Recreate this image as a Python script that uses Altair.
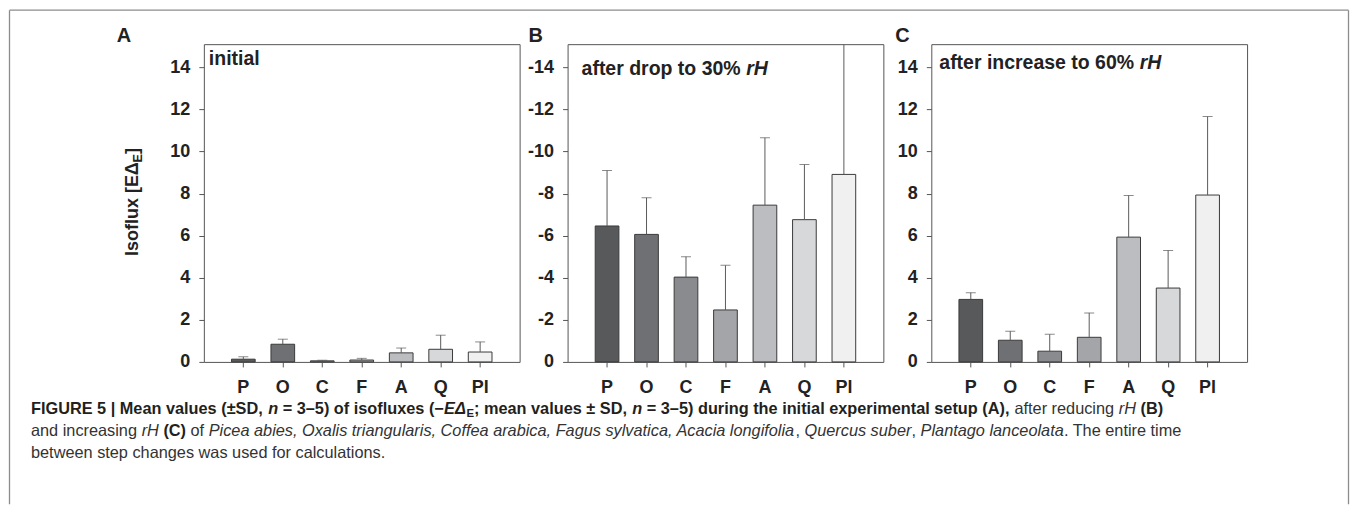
import altair as alt
import pandas as pd

# ---------------- data ----------------
species = ["P", "O", "C", "F", "A", "Q", "Pl"]
bar_colors = ["#58595b", "#6f7073", "#8a8b8e", "#a4a5a8", "#bcbdc0", "#d7d8da", "#f0f0f1"]

initial_mean = [0.13, 0.84, 0.05, 0.09, 0.43, 0.60, 0.47]
initial_upper = [0.24, 1.08, 0.08, 0.17, 0.66, 1.27, 0.95]

drop_mean = [6.46, 6.06, 4.03, 2.47, 7.45, 6.76, 8.91]
drop_upper = [9.10, 7.80, 5.00, 4.59, 10.65, 9.38, 16.0]

increase_mean = [2.97, 1.03, 0.51, 1.17, 5.93, 3.51, 7.93]
increase_upper = [3.29, 1.46, 1.31, 2.33, 7.91, 5.30, 11.66]

y_ticks = [0, 2, 4, 6, 8, 10, 12, 14]
panel_letters = ["A", "B", "C"]
panel_titles = ["initial", "after drop to 30% ", "after increase to 60% "]
panel_title_italic = ["", "rH", "rH"]
y_title_parts = ["Isoflux [E\u0394", "E", "]"]

caption_lines = [
    [("FIGURE 5 | Mean values (\u00b1SD, ", "b"), ("n", "bi"), (" = 3\u20135) of isofluxes (\u2212", "b"),
     ("E\u0394", "bi"), ("E", "bsub"), ("; mean values \u00b1 SD, ", "b"), ("n", "bi"),
     (" = 3\u20135) during the initial experimental setup (A),", "b"), (" after reducing ", "r"),
     ("rH", "i"), (" (B)", "b")],
    [("and increasing ", "r"), ("rH", "i"), (" (C)", "b"), (" of ", "r"),
     ("Picea abies, Oxalis triangularis, Coffea arabica, Fagus sylvatica, Acacia longifolia", "i"),
     (", ", "r"), ("Quercus suber", "i"), (", ", "r"), ("Plantago lanceolata", "i"),
     (". The entire time", "r")],
    [("between step changes was used for calculations.", "r")],
]

# ---------------- layout / style ----------------
FONT = "Liberation Sans"
CAP_FONT = "Liberation Sans"
NARROW = 1.0
PW, PH = 316, 318
SPACING = 48
ORIGINS = [(203, 43), (203 + PW + SPACING, 43), (203 + 2 * (PW + SPACING), 43)]
DARK = "#222222"

REG = {' ': 278, '!': 278, '%': 889, '(': 333, ')': 333, ',': 278, '-': 333, '.': 278, ':': 278, ';': 278,
       '=': 584, '[': 278, ']': 278, '|': 260, '\u00b1': 584, '\u2013': 556, '\u2212': 584, '\u0394': 668,
       'A': 667, 'B': 667, 'C': 722, 'D': 722, 'E': 667, 'F': 611, 'G': 778, 'H': 722, 'I': 278, 'J': 500,
       'K': 667, 'L': 556, 'M': 833, 'N': 722, 'O': 778, 'P': 667, 'Q': 778, 'R': 722, 'S': 667, 'T': 611,
       'U': 722, 'V': 667, 'W': 944, 'X': 667, 'Y': 667, 'Z': 611,
       'a': 556, 'b': 556, 'c': 500, 'd': 556, 'e': 556, 'f': 278, 'g': 556, 'h': 556, 'i': 222, 'j': 222,
       'k': 500, 'l': 222, 'm': 833, 'n': 556, 'o': 556, 'p': 556, 'q': 556, 'r': 333, 's': 500, 't': 278,
       'u': 556, 'v': 500, 'w': 722, 'x': 500, 'y': 500, 'z': 500}
BOLD = {' ': 278, '!': 333, '%': 889, '(': 333, ')': 333, ',': 278, '-': 333, '.': 278, ':': 333, ';': 333,
        '=': 584, '[': 333, ']': 333, '|': 280, '\u00b1': 584, '\u2013': 556, '\u2212': 584, '\u0394': 700,
        'A': 722, 'B': 722, 'C': 722, 'D': 722, 'E': 667, 'F': 611, 'G': 778, 'H': 722, 'I': 278, 'J': 556,
        'K': 722, 'L': 611, 'M': 833, 'N': 722, 'O': 778, 'P': 667, 'Q': 778, 'R': 722, 'S': 667, 'T': 611,
        'U': 722, 'V': 667, 'W': 944, 'X': 667, 'Y': 667, 'Z': 611,
        'a': 556, 'b': 611, 'c': 556, 'd': 611, 'e': 556, 'f': 333, 'g': 611, 'h': 611, 'i': 278, 'j': 278,
        'k': 556, 'l': 278, 'm': 889, 'n': 611, 'o': 611, 'p': 611, 'q': 611, 'r': 389, 's': 556, 't': 333,
        'u': 611, 'v': 556, 'w': 778, 'x': 556, 'y': 556, 'z': 500}


def text_em(s, bold):
    table = BOLD if bold else REG
    return sum(table.get(ch, 556) for ch in s) / 1000.0


def txt(text, px, py, origin, size, weight="bold", style="normal", align="left",
        baseline="alphabetic", angle=None, color=DARK, font=FONT):
    ox, oy = origin
    kw = dict(align=align, baseline=baseline, font=font, fontSize=size,
              fontWeight=weight, fontStyle=style, color=color)
    if angle is not None:
        kw["angle"] = angle
    return alt.Chart(pd.DataFrame({"t": [text]})).mark_text(**kw).encode(
        x=alt.value(px - ox), y=alt.value(py - oy), text="t:N")


def frame_rule(x1, y1, x2, y2, origin):
    ox, oy = origin
    return alt.Chart(pd.DataFrame({"k": [0]})).mark_rule(color="#8c8c8c", strokeWidth=1.3).encode(
        x=alt.value(x1 - ox), y=alt.value(y1 - oy), x2=alt.value(x2 - ox), y2=alt.value(y2 - oy))


def caption_layers(origin):
    layers = []
    x0, x_end = 30, 1163
    em1 = 0
    for seg, st in caption_lines[0]:
        f = 0.7 if "sub" in st else 1.0
        em1 += text_em(seg, "b" in st) * f
    size = (x_end - x0) / (em1 * NARROW)
    baselines = [413, 435, 457]
    for line, yb in zip(caption_lines, baselines):
        cx = x0
        for seg, st in line:
            bold = "b" in st
            f = 0.7 if "sub" in st else 1.0
            sz = size * f
            stripped = seg.lstrip(" ")
            lead = (len(seg) - len(stripped)) * 0.278 * sz * NARROW
            body = stripped.rstrip(" ")
            if body:
                layers.append(txt(body, cx + lead, yb + (3 if "sub" in st else 0), origin, sz,
                                  weight="bold" if bold else "normal",
                                  style="italic" if "i" in st else "normal",
                                  color="#231f20" if bold else "#333333", font=CAP_FONT))
            cx += text_em(seg, bold) * sz * NARROW
    return layers


def panel(idx, mean, upper, label_expr):
    origin = ORIGINS[idx]
    df = pd.DataFrame({"sp": species, "mean": mean, "upper": upper})
    base = alt.Chart(df)
    x = alt.X("sp:N", sort=species,
              scale=alt.Scale(paddingInner=0.4, paddingOuter=0.7),
              axis=alt.Axis(title=None, labelAngle=0, tickSize=5, labelPadding=12,
                            domain=False, ticks=True))
    y_axis = dict(values=y_ticks, title=None, grid=False, domain=False, tickSize=5, labelPadding=9)
    if label_expr:
        y_axis["labelExpr"] = label_expr
    y = alt.Y("mean:Q", scale=alt.Scale(domain=[0, 15.1], nice=False, zero=True),
              axis=alt.Axis(**y_axis))
    bars = base.mark_bar(stroke="#3a3a3a", strokeWidth=1).encode(
        x=x, y=y,
        color=alt.Color("sp:N", scale=alt.Scale(domain=species, range=bar_colors), legend=None))
    rule = base.mark_rule(color="#5a5a5a", strokeWidth=1, clip=True).encode(
        x=alt.X("sp:N", sort=species), y="mean:Q", y2="upper:Q")
    cap = base.mark_tick(color="#5a5a5a", size=10, thickness=1, clip=True).encode(
        x=alt.X("sp:N", sort=species), y="upper:Q")

    letter_x = [123, 535, 902][idx]
    title_pos = [(208, 64), (581, 74), (939, 68)][idx]
    layers = [bars, rule, cap,
              txt(panel_letters[idx], letter_x, 35, origin, 20, align="center", baseline="middle")]
    tsize = 19.5
    layers.append(txt(panel_titles[idx].rstrip(), title_pos[0], title_pos[1], origin, tsize))
    if panel_title_italic[idx]:
        w = text_em(panel_titles[idx], True) * tsize
        layers.append(txt(panel_title_italic[idx], title_pos[0] + w, title_pos[1], origin, tsize,
                          style="italic"))
    if idx == 0:
        # y-axis title, rotated, with a subscript E
        ty_size = 18
        yb = 255
        w1 = text_em(y_title_parts[0], True) * ty_size
        sub = ty_size * 0.7
        w2 = text_em(y_title_parts[1], True) * sub
        layers.append(txt(y_title_parts[0], 132, yb, origin, ty_size, angle=270, baseline="middle"))
        layers.append(txt(y_title_parts[1], 137, yb - w1, origin, sub, angle=270, baseline="middle"))
        layers.append(txt(y_title_parts[2], 132, yb - w1 - w2, origin, ty_size, angle=270, baseline="middle"))
        # outer figure frame
        layers.append(frame_rule(8.5, 9, 8.5, 503.5, origin))
        layers.append(frame_rule(8.5, 9, 1348.5, 9, origin))
        layers.append(frame_rule(1348.5, 9, 1348.5, 503.5, origin))
        layers.extend(caption_layers(origin))
    return alt.layer(*layers).properties(width=PW, height=PH)


pA = panel(0, initial_mean, initial_upper, None)
pB = panel(1, drop_mean, drop_upper, "datum.value == 0 ? '0' : '-' + datum.value")
pC = panel(2, increase_mean, increase_upper, None)

chart = alt.hconcat(pA, pB, pC, spacing=SPACING, bounds="flush").resolve_scale(
    y="independent", x="independent", color="independent"
).properties(padding=0, background="white").configure_view(
    stroke="#555555", strokeWidth=1
).configure_axis(
    labelFont=FONT, labelFontSize=18, labelFontWeight="bold", labelColor=DARK,
    tickColor="#555555", tickWidth=1
)

chart.save("out.html", embed_options={"renderer": "svg", "actions": False})
